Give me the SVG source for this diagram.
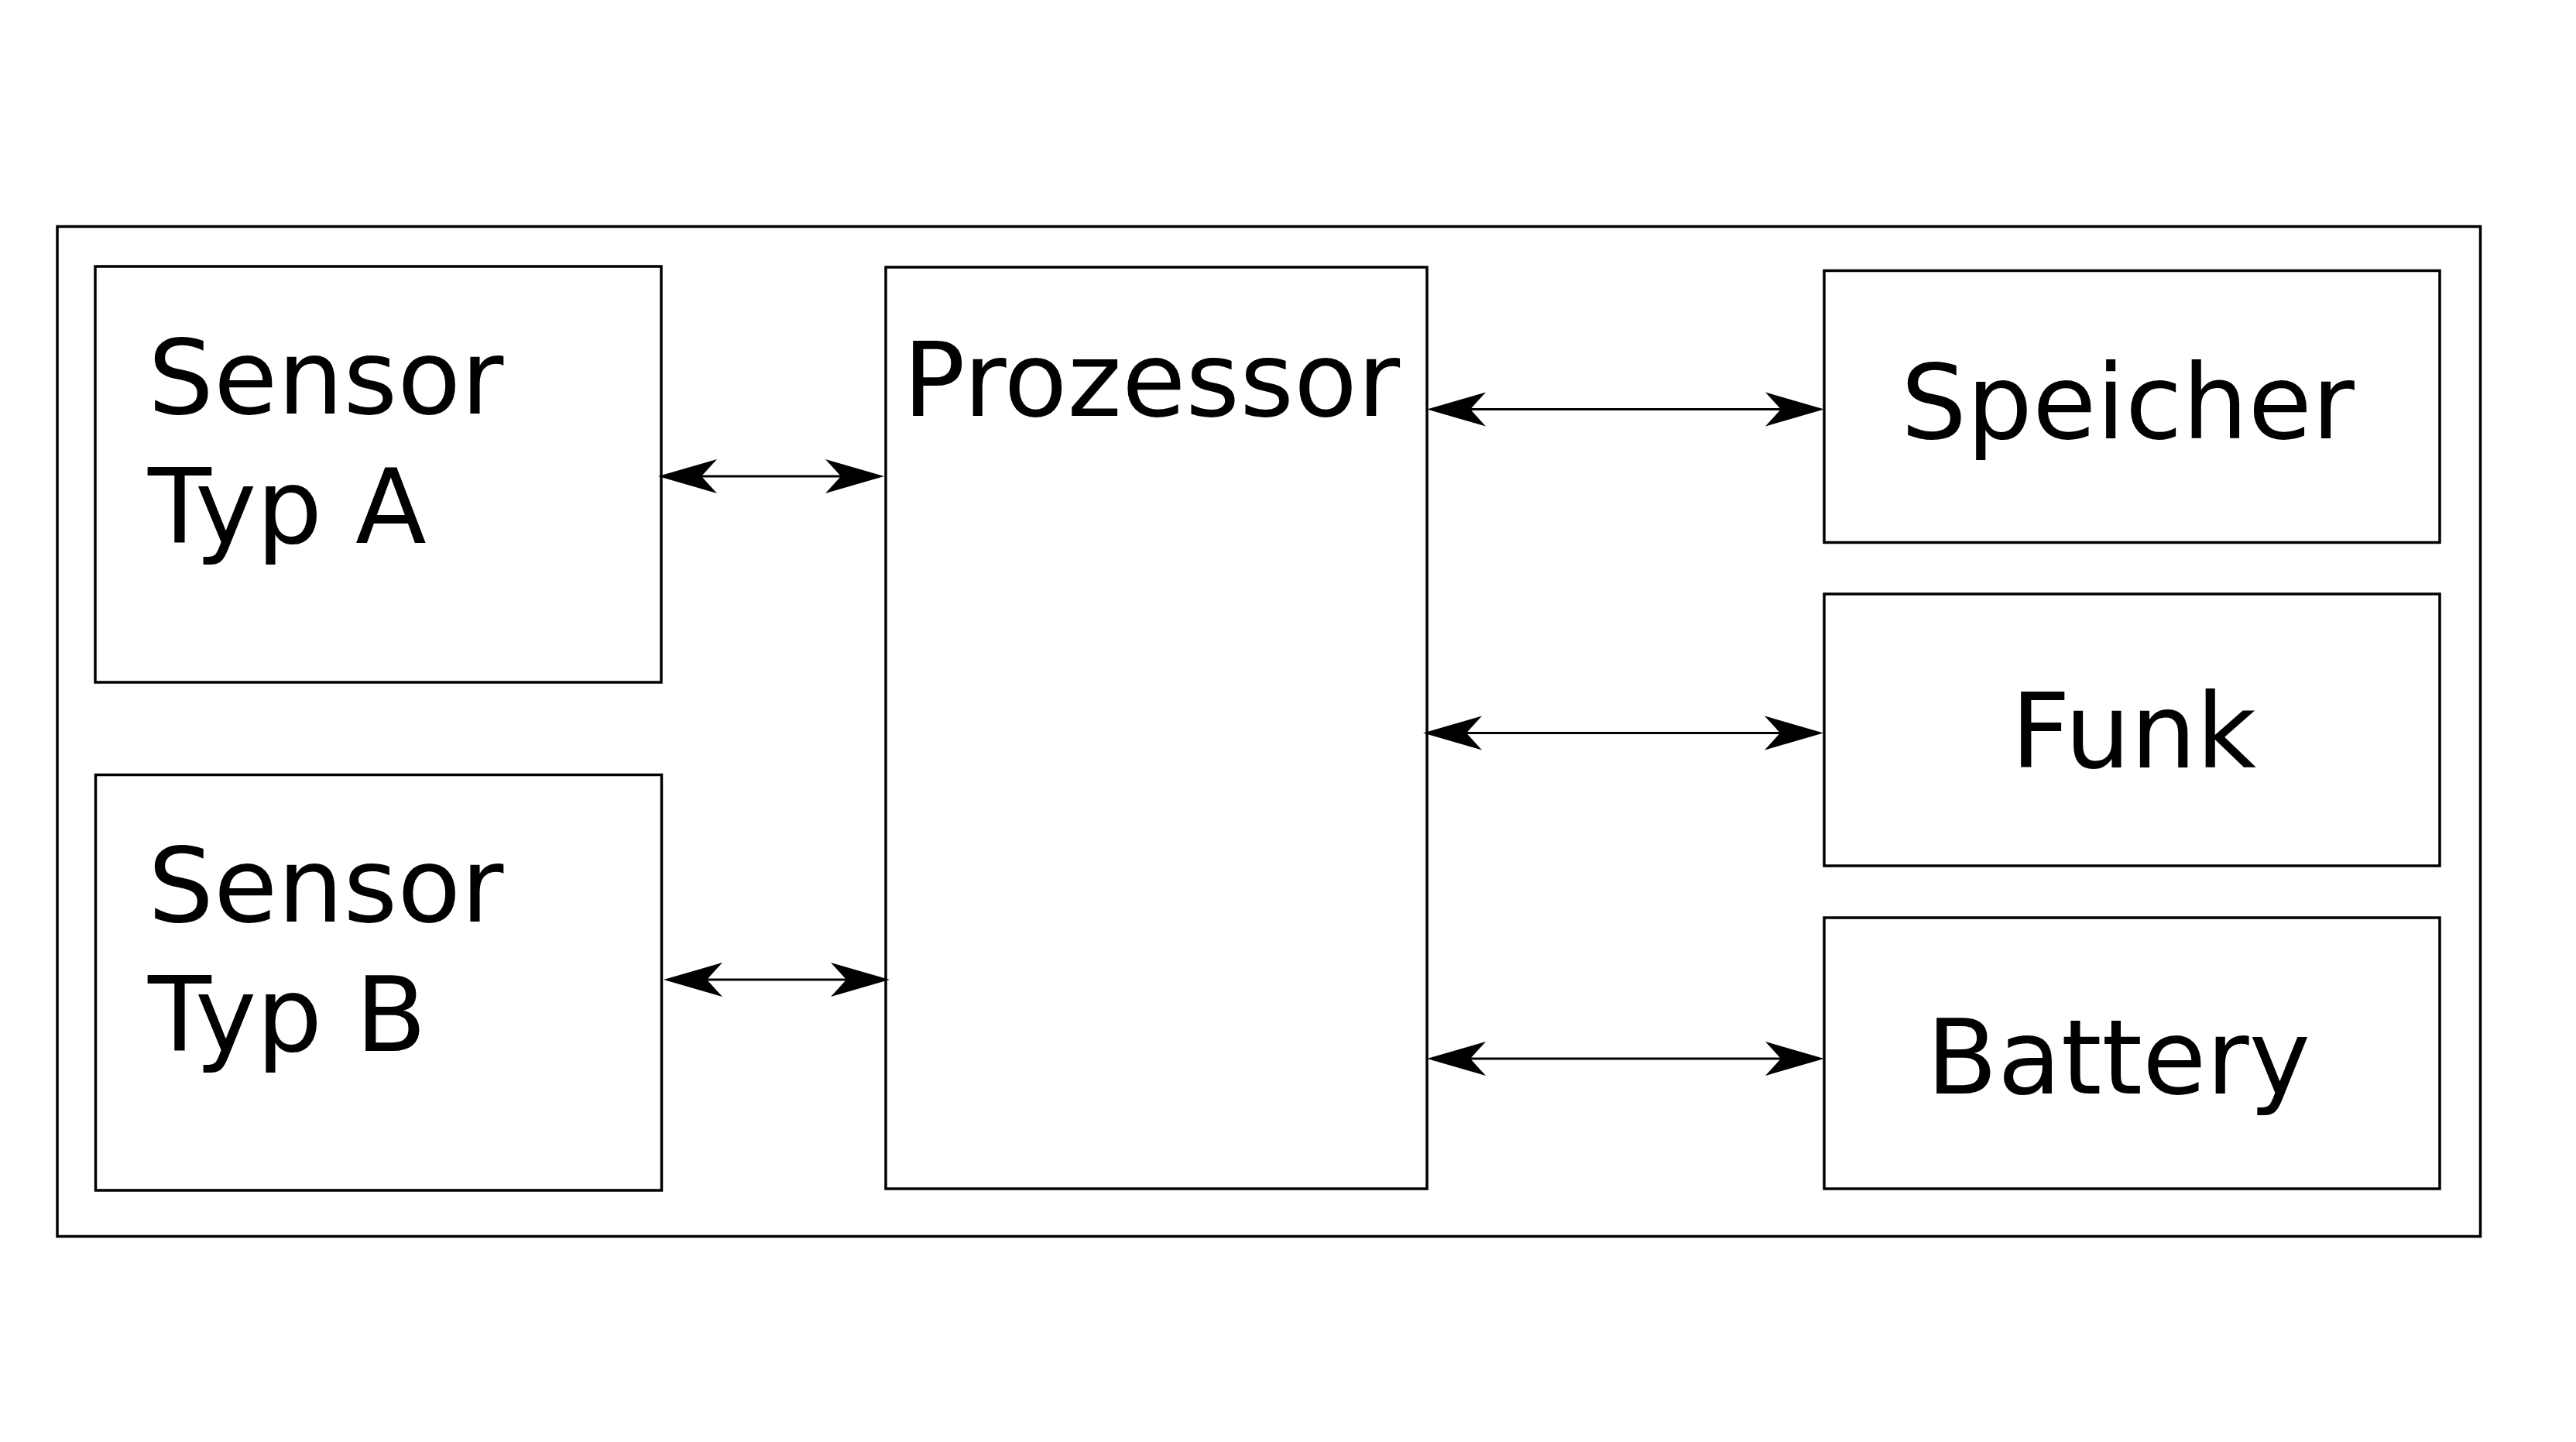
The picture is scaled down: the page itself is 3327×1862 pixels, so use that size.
<svg xmlns="http://www.w3.org/2000/svg" width="3327" height="1862" viewBox="0 0 3327 1862">
  <style>
    .box { fill: none; stroke: #000; stroke-width: 3.5; }
    .lbl { font-family: "DejaVu Sans", Verdana, sans-serif; font-size: 134px; fill: #000; }
    .conn { stroke: #000; stroke-width: 3.2; fill: none; marker-start: url(#ah); marker-end: url(#ah); }
  </style>
  <defs>
    <marker id="ah" markerUnits="userSpaceOnUse" viewBox="-80 -26 84 52" markerWidth="84" markerHeight="52" refX="-56" refY="0" orient="auto-start-reverse">
      <path d="M0,0 L-76,-22 Q-64,-9 -56,0 Q-64,9 -76,22 Z" fill="#000"/>
    </marker>
  </defs>
  <rect width="3327" height="1862" fill="#fff"/>
  <g id="outer">
    <rect class="box" x="74" y="292.5" width="3129.5" height="1304"/>
  </g>
  <g id="sensorA">
    <rect class="box" x="123" y="344" width="731" height="537"/>
    <text class="lbl" x="191" y="534">Sensor</text>
    <text class="lbl" x="191" y="701">Typ A</text>
  </g>
  <g id="sensorB">
    <rect class="box" x="123.5" y="1000.5" width="731" height="536.5"/>
    <text class="lbl" x="191" y="1190">Sensor</text>
    <text class="lbl" x="191" y="1357">Typ B</text>
  </g>
  <g id="prozessor">
    <rect class="box" x="1144" y="345" width="699" height="1190"/>
    <text class="lbl" x="1166" y="537">Prozessor</text>
  </g>
  <g id="speicher">
    <rect class="box" x="2356" y="349.5" width="795" height="351"/>
    <text class="lbl" x="2455" y="566">Speicher</text>
  </g>
  <g id="funk">
    <rect class="box" x="2356" y="767" width="795" height="351"/>
    <text class="lbl" x="2597" y="991">Funk</text>
  </g>
  <g id="battery">
    <rect class="box" x="2356" y="1185" width="795" height="350"/>
    <text class="lbl" x="2488" y="1412">Battery</text>
  </g>
  <g id="connectors">
    <line class="conn" x1="906" y1="615" x2="1086" y2="615"/>
    <line class="conn" x1="913" y1="1265" x2="1093" y2="1265"/>
    <line class="conn" x1="1899" y1="528.5" x2="2300" y2="528.5"/>
    <line class="conn" x1="1894" y1="946.5" x2="2299" y2="946.5"/>
    <line class="conn" x1="1899" y1="1367" x2="2300" y2="1367"/>
  </g>
</svg>
